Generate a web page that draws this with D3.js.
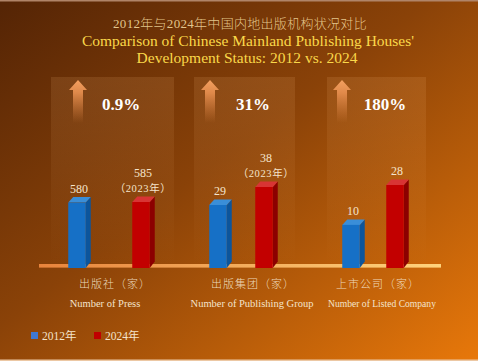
<!DOCTYPE html>
<html>
<head>
<meta charset="utf-8">
<script src="https://cdn.jsdelivr.net/npm/d3@7"></script>
<style>
  html, body { margin: 0; padding: 0; background: #000; }
  svg { display: block; }
</style>
</head>
<body>
<script>
// dados
const categorias = ["出版社（家）", "出版集团（家）", "上市公司（家）"];
const categoriasEn = ["Number of  Press", "Number of Publishing Group", "Number of Listed Company"];
const valores2012 = [580, 29, 10];
const valores2024 = [585, 38, 28];
const notas2024 = ["（2023年）", "（2023年）", ""];
const crescimento = ["0.9%", "31%", "180%"];
const series = ["2012年", "2024年"];

const largura = 478, altura = 361;
const baseY = 267;
const serif = "'Liberation Serif', 'Times New Roman', 'Noto Sans CJK SC', serif";
const cjk = "'Noto Sans CJK SC', 'Liberation Serif', sans-serif";

// layout por painel (nao sao dados)
const layout = [
  { lo: 0,  topo: 202, meio: 32, painel: 123, dxCn: 6,  dxEn: -4, fsEn: 10.5 },
  { lo: -2, topo: 187, meio: 23, painel: 101, dxCn: 12, dxEn: 11, fsEn: 10.5 },
  { lo: -9, topo: 185, meio: 22, painel: 99,  dxCn: 5,  dxEn: 9,  fsEn: 9.6 }
];

const svg = d3.select("body").append("svg")
  .attr("width", largura)
  .attr("height", altura);

const defs = svg.append("defs");

const fundo = defs.append("linearGradient").attr("id", "fundo")
  .attr("x1", "0").attr("y1", "0").attr("x2", "1").attr("y2", "1");
fundo.append("stop").attr("offset", "0").attr("stop-color", "#542405");
fundo.append("stop").attr("offset", "0.45").attr("stop-color", "#8a4208");
fundo.append("stop").attr("offset", "1").attr("stop-color", "#e8780a");

const linhaGrad = defs.append("linearGradient").attr("id", "linhaBase");
linhaGrad.append("stop").attr("offset", "0").attr("stop-color", "#e8843c");
linhaGrad.append("stop").attr("offset", "1").attr("stop-color", "#ffd47c");

const painelGrad = defs.append("linearGradient").attr("id", "painel")
  .attr("x1", "0").attr("y1", "0").attr("x2", "0").attr("y2", "1");
painelGrad.append("stop").attr("offset", "0").attr("stop-color", "#ffc080").attr("stop-opacity", 0.13);
painelGrad.append("stop").attr("offset", "1").attr("stop-color", "#ffc080").attr("stop-opacity", 0);

const setaGrad = defs.append("linearGradient").attr("id", "seta")
  .attr("x1", "0").attr("y1", "0").attr("x2", "0").attr("y2", "1");
setaGrad.append("stop").attr("offset", "0").attr("stop-color", "#f4a060").attr("stop-opacity", 1);
setaGrad.append("stop").attr("offset", "0.3").attr("stop-color", "#e89050").attr("stop-opacity", 0.9);
setaGrad.append("stop").attr("offset", "1").attr("stop-color", "#d88040").attr("stop-opacity", 0);

svg.append("rect")
  .attr("width", largura).attr("height", altura)
  .attr("fill", "url(#fundo)");

svg.append("rect").attr("width", largura).attr("height", 1.5).attr("fill", "#b08468");
svg.append("rect").attr("y", altura - 1.5).attr("width", largura).attr("height", 1.5).attr("fill", "#ecc8a4");

// titulo
const titulo = svg.append("g").attr("text-anchor", "middle");
titulo.append("text")
  .attr("x", 240).attr("y", 28)
  .attr("font-family", serif).attr("font-size", 13).attr("font-weight", 300)
  .attr("letter-spacing", 0.3)
  .attr("fill", "#eed49a").attr("fill-opacity", 0.92)
  .text("2012年与2024年中国内地出版机构状况对比");
titulo.append("text")
  .attr("x", 248).attr("y", 46)
  .attr("font-family", serif).attr("font-size", 15.5)
  .attr("fill", "#fad84a")
  .text("Comparison of Chinese Mainland Publishing Houses'");
titulo.append("text")
  .attr("x", 247).attr("y", 63)
  .attr("font-family", serif).attr("font-size", 15.5)
  .attr("fill", "#fad84a")
  .text("Development Status: 2012 vs. 2024");

const x = d3.scaleBand().domain(categorias).range([43, 439]);

const dados = categorias.map((c, i) => ({
  cat: c, en: categoriasEn[i], v12: valores2012[i], v24: valores2024[i],
  nota: notas2024[i], cresc: crescimento[i], lay: layout[i]
}));

const larguraBarra = 17.5, prof = 5, subida = 5.5;

// paineis e setas
dados.forEach(d => {
  const cx = x(d.cat) + x.bandwidth() / 2;
  const L = d.lay;
  svg.append("rect")
    .attr("x", cx + 3.5 - L.painel / 2).attr("y", 77)
    .attr("width", L.painel).attr("height", baseY - 77)
    .attr("fill", "url(#painel)");

  const ax = cx - 31;
  svg.append("path")
    .attr("d", `M${ax},80 L${ax + 9},90 L${ax + 5},90 L${ax + 5},123 L${ax - 5},123 L${ax - 5},90 L${ax - 9},90 Z`)
    .attr("fill", "url(#seta)");

  svg.append("text")
    .attr("x", cx + 12).attr("y", 110)
    .attr("text-anchor", "middle")
    .attr("font-family", "'Liberation Serif', 'DejaVu Serif', serif")
    .attr("font-weight", "bold").attr("font-size", 17)
    .attr("fill", "#ffffff")
    .text(d.cresc);
});

// linha base
svg.append("rect")
  .attr("x", 39).attr("y", 264)
  .attr("width", 402).attr("height", 3.6)
  .attr("fill", "url(#linhaBase)");

// barras 3D
const cores = [
  { frente: "#1670c6", lado: "#0c559c", topo: "#3a8ed8" },
  { frente: "#c20000", lado: "#8c0000", topo: "#d83434" }
];

function barra(cx, yTopo, cor) {
  const x0 = cx - larguraBarra / 2, x1 = cx + larguraBarra / 2;
  const g = svg.append("g");
  g.append("path")
    .attr("d", `M${x1},${yTopo} L${x1 + prof},${yTopo - subida} L${x1 + prof},${baseY - subida} L${x1},${baseY + 1} Z`)
    .attr("fill", cor.lado);
  g.append("path")
    .attr("d", `M${x0},${yTopo} L${x0 + prof},${yTopo - subida} L${x1 + prof},${yTopo - subida} L${x1},${yTopo} Z`)
    .attr("fill", cor.topo);
  g.append("rect")
    .attr("x", x0).attr("y", yTopo)
    .attr("width", larguraBarra).attr("height", baseY + 1 - yTopo)
    .attr("fill", cor.frente);
}

dados.forEach(d => {
  const cx = x(d.cat) + x.bandwidth() / 2;
  const L = d.lay;
  const y = d3.scaleLinear().domain([L.lo, d3.max([d.v12, d.v24])]).range([baseY, L.topo]);

  const xa = cx - L.meio, xb = cx + L.meio;
  barra(xa, y(d.v12), cores[0]);
  barra(xb, y(d.v24), cores[1]);

  const rot = svg.append("g")
    .attr("text-anchor", "middle")
    .attr("font-family", serif)
    .attr("fill", "#f4e4cc");

  rot.append("text")
    .attr("x", xa + 2).attr("y", y(d.v12) - subida - 4.5)
    .attr("font-size", 12)
    .text(d.v12);

  const yb = y(d.v24) - subida - 4.5;
  if (d.nota) {
    rot.append("text")
      .attr("x", xb + 2).attr("y", yb)
      .attr("font-size", 10.5).attr("letter-spacing", 0.6)
      .text(d.nota);
    rot.append("text")
      .attr("x", xb + 2).attr("y", yb - 15)
      .attr("font-size", 12)
      .text(d.v24);
  } else {
    rot.append("text")
      .attr("x", xb + 2).attr("y", yb)
      .attr("font-size", 12)
      .text(d.v24);
  }

  // rotulos das categorias
  svg.append("text")
    .attr("x", cx + L.dxCn).attr("y", 288)
    .attr("text-anchor", "middle")
    .attr("font-family", cjk).attr("font-size", 11).attr("font-weight", 300)
    .attr("letter-spacing", 1)
    .attr("fill", "#f4e4cc").attr("fill-opacity", 0.92)
    .text(d.cat);
  svg.append("text")
    .attr("x", cx + L.dxEn).attr("y", 307)
    .attr("text-anchor", "middle")
    .attr("font-family", serif).attr("font-size", L.fsEn)
    .attr("fill", "#f4e4cc")
    .text(d.en);
});

// legenda
const legenda = svg.append("g");
series.forEach((s, i) => {
  const lx = 31 + i * 63;
  legenda.append("rect")
    .attr("x", lx).attr("y", 332)
    .attr("width", 7).attr("height", 7)
    .attr("fill", i === 0 ? "#3f78d0" : "#c00000");
  legenda.append("text")
    .attr("x", lx + 11).attr("y", 339.5)
    .attr("font-family", serif).attr("font-size", 11.5)
    .attr("fill", "#f4e4cc")
    .text(s);
});
</script>
</body>
</html>
